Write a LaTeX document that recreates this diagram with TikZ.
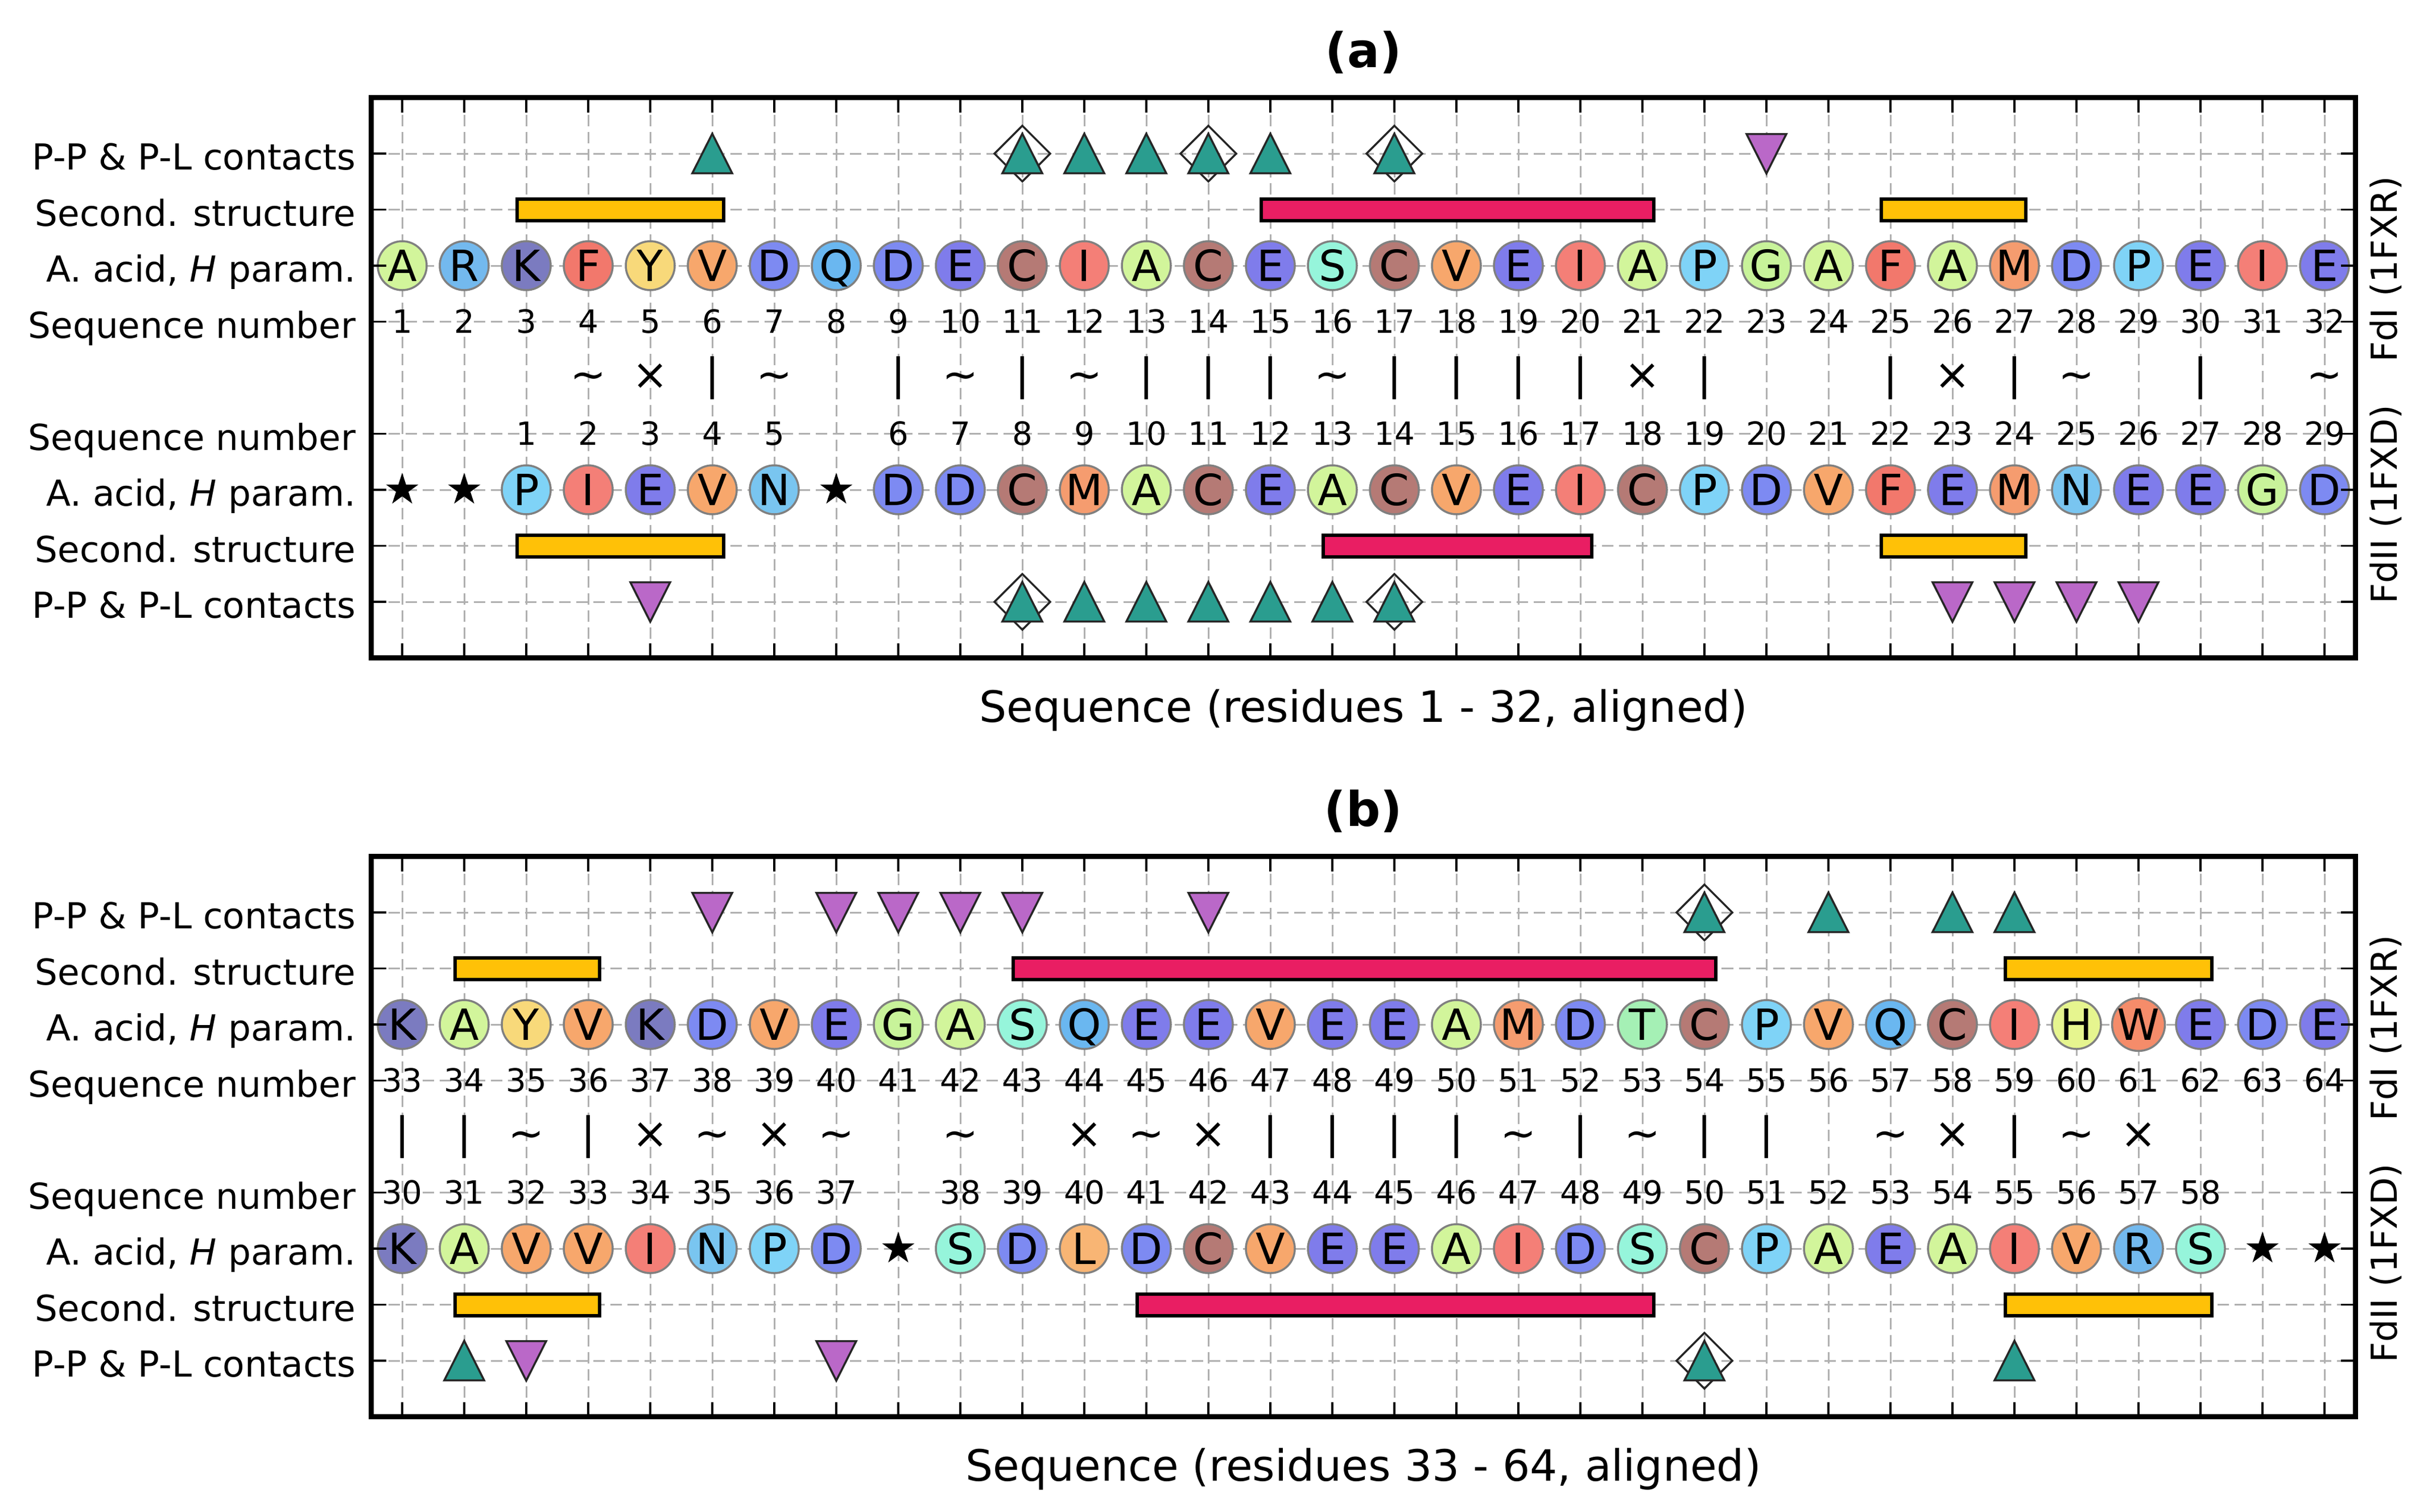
\documentclass[tikz,border=0pt]{standalone}
\usepackage{fontspec}
\setmainfont{DejaVu Sans}
\usetikzlibrary{shapes.geometric}
\definecolor{gridc}{HTML}{B0B0B0}
\definecolor{tealc}{HTML}{2A9D8F}
\definecolor{purc}{HTML}{BA68C8}
\definecolor{ybar}{HTML}{FFC107}
\definecolor{rbar}{HTML}{E91E63}
\definecolor{aaA}{HTML}{D2F59B}
\definecolor{aaR}{HTML}{73B9EE}
\definecolor{aaK}{HTML}{7B7BC0}
\definecolor{aaF}{HTML}{F2786C}
\definecolor{aaY}{HTML}{F8D97A}
\definecolor{aaV}{HTML}{F7A76C}
\definecolor{aaD}{HTML}{7D8AF2}
\definecolor{aaQ}{HTML}{6AB7F0}
\definecolor{aaE}{HTML}{7F7CEB}
\definecolor{aaC}{HTML}{B57A75}
\definecolor{aaI}{HTML}{F47F77}
\definecolor{aaS}{HTML}{96F5DB}
\definecolor{aaP}{HTML}{7FD3F7}
\definecolor{aaG}{HTML}{C8F39A}
\definecolor{aaM}{HTML}{F59C6F}
\definecolor{aaN}{HTML}{79C5F0}
\definecolor{aaL}{HTML}{F8B574}
\definecolor{aaT}{HTML}{A5F0B5}
\definecolor{aaH}{HTML}{E6F58F}
\definecolor{aaW}{HTML}{F58C6A}
\newcommand{\mysymI}{|}
\newcommand{\mysymT}{\textasciitilde}
\newcommand{\mysymX}{×}
\tikzset{
  gridl/.style={draw=gridc, line width=0.85pt, dash pattern=on 5.7pt off 2.85pt},
  framel/.style={draw=black, line width=2.6pt},
  tickl/.style={draw=black, line width=1.1pt},
  ylab/.style={anchor=base east, inner sep=0, font=\fontsize{17.9}{20}\selectfont},
  rlab/.style={anchor=base, inner sep=0, rotate=90, font=\fontsize{17.9}{20}\selectfont},
  numl/.style={anchor=base, inner sep=0, font=\fontsize{16}{18}\selectfont},
  res/.style={circle, inner sep=0, minimum size=0.86cm, fill=aa#1, draw=black!50,
    line width=1pt, font=\fontsize{21.5}{23}\selectfont, text height=15.7pt, text depth=0pt},
  symb/.style={anchor=base, inner sep=0, font=\fontsize{21.5}{23}\selectfont},
  starm/.style={star, star points=5, star point ratio=2.618, fill=black, draw=none,
    inner sep=0, minimum size=0.6cm},
  ssbar/.style={draw=black, line width=1.7pt, fill=#1},
  titl/.style={anchor=base, inner sep=0, font=\fontsize{24}{28}\selectfont\bfseries},
  xlab/.style={anchor=base, inner sep=0, font=\fontsize{21.6}{24}\selectfont},
  pics/tup/.style={code={\draw[fill=tealc, draw=black!85, line width=1pt]
    (0cm,0.35cm) -- (-0.35cm,-0.345cm) -- (0.35cm,-0.345cm) -- cycle;}},
  pics/tdn/.style={code={\draw[fill=purc, draw=black!85, line width=1pt]
    (0cm,-0.35cm) -- (-0.35cm,0.345cm) -- (0.35cm,0.345cm) -- cycle;}},
  pics/dia/.style={code={\draw[draw=black!85, line width=1pt]
    (0cm,0.49cm) -- (0.49cm,0cm) -- (0cm,-0.49cm) -- (-0.49cm,0cm) -- cycle;}},
}
\newcommand{\ssbarat}[4]{\draw[ssbar=#4] (#2-0.15,#1-0.193) rectangle (#3+0.18,#1+0.193);}
\newcommand{\panelgrid}{%
  \foreach \c in {1,...,32} \draw[gridl] (\c,0) -- (\c,10);
  \foreach \k in {1,2,3,4,6,7,8,9} \draw[gridl] (0.5,\k) -- (32.5,\k);
}
\newcommand{\panelframe}[1]{%
  \foreach \c in {1,...,32} {
    \draw[tickl] (\c,0) -- ++(0,-0.26cm);
    \draw[tickl] (\c,10) -- ++(0,0.26cm);
  }
  \foreach \k in {1,2,3,4,6,7,8,9} {
    \draw[tickl] (0.5,\k) -- ++(0.26cm,0);
    \draw[tickl] (32.5,\k) -- ++(-0.26cm,0);
  }
  \draw[framel] (0.5,0) rectangle (32.5,10);
  \node[ylab] (#1-lab1) at ([xshift=-0.265cm,yshift=-0.285cm]0.5,1) {P-P \& P-L contacts};
  \node[ylab] (#1-lab2) at ([xshift=-0.265cm,yshift=-0.285cm]0.5,2) {Second. structure};
  \node[ylab] (#1-lab3) at ([xshift=-0.265cm,yshift=-0.285cm]0.5,3) {A. acid, \textit{H} param.};
  \node[ylab] (#1-lab4) at ([xshift=-0.265cm,yshift=-0.285cm]0.5,4) {Sequence number};
  \node[ylab] (#1-lab6) at ([xshift=-0.265cm,yshift=-0.285cm]0.5,6) {Sequence number};
  \node[ylab] (#1-lab7) at ([xshift=-0.265cm,yshift=-0.285cm]0.5,7) {A. acid, \textit{H} param.};
  \node[ylab] (#1-lab8) at ([xshift=-0.265cm,yshift=-0.285cm]0.5,8) {Second. structure};
  \node[ylab] (#1-lab9) at ([xshift=-0.265cm,yshift=-0.285cm]0.5,9) {P-P \& P-L contacts};
  \node[rlab] (#1-fd1) at (33.17,3.06) {FdI (1FXR)};
  \node[rlab] (#1-fd2) at (33.17,7.26) {FdII (1FXD)};
}
\begin{document}
\begin{tikzpicture}
\useasboundingbox (0,0) rectangle (42.82,-26.57);
% ================= panel (a) =================
\begin{scope}[shift={(5.98,-1.715)}, x=1.09cm, y=-0.985cm]
  \panelgrid
  % secondary structure
  \ssbarat{2}{3}{6}{ybar}
  \ssbarat{2}{15}{21}{rbar}
  \ssbarat{2}{25}{27}{ybar}
  \ssbarat{8}{3}{6}{ybar}
  \ssbarat{8}{16}{20}{rbar}
  \ssbarat{8}{25}{27}{ybar}
  % contacts FdI
  \foreach \c in {11,14,17} \pic at (\c,1) {dia};
  \foreach \c in {6,11,12,13,14,15,17} \pic at (\c,1) {tup};
  \foreach \c in {23} \pic at (\c,1) {tdn};
  % contacts FdII
  \foreach \c in {11,17} \pic at (\c,9) {dia};
  \foreach \c in {11,12,13,14,15,16,17} \pic at (\c,9) {tup};
  \foreach \c in {5,26,27,28,29} \pic at (\c,9) {tdn};
  % FdI residues
  \foreach \l [count=\c] in {A,R,K,F,Y,V,D,Q,D,E,C,I,A,C,E,S,C,V,E,I,A,P,G,A,F,A,M,D,P,E,I,E}
    \node[res=\l] (a3-\c) at (\c,3) {\l};
  \foreach \c in {1,...,32} \node[numl] (a4-\c) at ([yshift=-0.2cm]\c,4) {\c};
  % alignment symbols
  \foreach \c/\s in {4/T,5/X,6/I,7/T,9/I,10/T,11/I,12/T,13/I,14/I,15/I,16/T,17/I,18/I,19/I,20/I,21/X,22/I,25/I,26/X,27/I,28/T,30/I,32/T}
    \node[symb] (a5-\c) at ([yshift=-0.2cm]\c,5) {\csname mysym\s\endcsname};
  % FdII numbers
  \foreach \c in {3,...,7} {\pgfmathtruncatemacro\n{\c-2}\node[numl] (a6-\c) at ([yshift=-0.2cm]\c,6) {\n};}
  \foreach \c in {9,...,32} {\pgfmathtruncatemacro\n{\c-3}\node[numl] (a6-\c) at ([yshift=-0.2cm]\c,6) {\n};}
  % FdII residues
  \foreach \c in {1,2,8} \node[starm] (a7-\c) at (\c,7) {};
  \foreach \c/\l in {3/P,4/I,5/E,6/V,7/N,9/D,10/D,11/C,12/M,13/A,14/C,15/E,16/A,17/C,18/V,19/E,20/I,21/C,22/P,23/D,24/V,25/F,26/E,27/M,28/N,29/E,30/E,31/G,32/D}
    \node[res=\l] (a7-\c) at (\c,7) {\l};
  \panelframe{a}
  \node[titl] (a-title) at (16.5,-0.543) {(a)};
  \node[xlab] (a-xlab) at (16.5,11.15) {Sequence (residues 1 - 32, aligned)};
\end{scope}
% ================= panel (b) =================
\begin{scope}[shift={(5.98,-15.055)}, x=1.09cm, y=-0.985cm]
  \panelgrid
  \ssbarat{2}{2}{4}{ybar}
  \ssbarat{2}{11}{22}{rbar}
  \ssbarat{2}{27}{30}{ybar}
  \ssbarat{8}{2}{4}{ybar}
  \ssbarat{8}{13}{21}{rbar}
  \ssbarat{8}{27}{30}{ybar}
  % contacts FdI
  \foreach \c in {22} \pic at (\c,1) {dia};
  \foreach \c in {22,24,26,27} \pic at (\c,1) {tup};
  \foreach \c in {6,8,9,10,11,14} \pic at (\c,1) {tdn};
  % contacts FdII
  \foreach \c in {22} \pic at (\c,9) {dia};
  \foreach \c in {2,22,27} \pic at (\c,9) {tup};
  \foreach \c in {3,8} \pic at (\c,9) {tdn};
  % FdI residues
  \foreach \l [count=\c] in {K,A,Y,V,K,D,V,E,G,A,S,Q,E,E,V,E,E,A,M,D,T,C,P,V,Q,C,I,H,W,E,D,E}
    \node[res=\l] (b3-\c) at (\c,3) {\l};
  \foreach \c in {1,...,32} {\pgfmathtruncatemacro\n{\c+32}\node[numl] (b4-\c) at ([yshift=-0.2cm]\c,4) {\n};}
  \foreach \c/\s in {1/I,2/I,3/T,4/I,5/X,6/T,7/X,8/T,10/T,12/X,13/T,14/X,15/I,16/I,17/I,18/I,19/T,20/I,21/T,22/I,23/I,25/T,26/X,27/I,28/T,29/X}
    \node[symb] (b5-\c) at ([yshift=-0.2cm]\c,5) {\csname mysym\s\endcsname};
  \foreach \c in {1,...,8} {\pgfmathtruncatemacro\n{\c+29}\node[numl] (b6-\c) at ([yshift=-0.2cm]\c,6) {\n};}
  \foreach \c in {10,...,30} {\pgfmathtruncatemacro\n{\c+28}\node[numl] (b6-\c) at ([yshift=-0.2cm]\c,6) {\n};}
  \foreach \c in {9,31,32} \node[starm] (b7-\c) at (\c,7) {};
  \foreach \c/\l in {1/K,2/A,3/V,4/V,5/I,6/N,7/P,8/D,10/S,11/D,12/L,13/D,14/C,15/V,16/E,17/E,18/A,19/I,20/D,21/S,22/C,23/P,24/A,25/E,26/A,27/I,28/V,29/R,30/S}
    \node[res=\l] (b7-\c) at (\c,7) {\l};
  \panelframe{b}
  \node[titl] (b-title) at (16.5,-0.543) {(b)};
  \node[xlab] (b-xlab) at (16.5,11.15) {Sequence (residues 33 - 64, aligned)};
\end{scope}
\end{tikzpicture}
\end{document}
